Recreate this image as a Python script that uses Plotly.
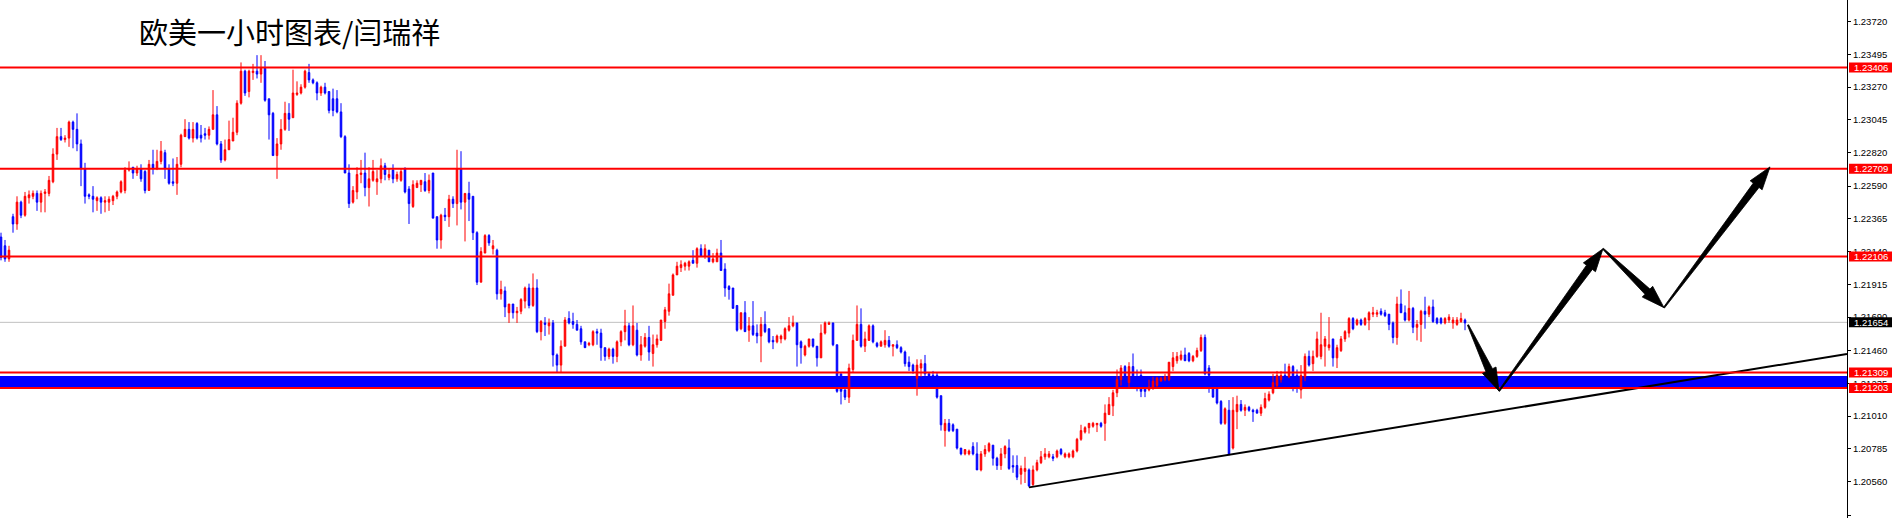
import plotly.graph_objects as go
import math

W, H = 1892, 518
ML, MR, MT, MB = 0, 45, 0, 0
PW, PH = W - ML - MR, H - MT - MB
X_RANGE = [-0.25, 461.5]
Y_RANGE = [1.203095, 1.23869]

opens = [
1.2224,1.2218,1.2209,1.2238,1.2233,1.2248,1.2239,1.2251,1.2252,1.2254,
1.2248,1.2254,1.2254,1.2262,1.2281,1.2293,1.2291,1.2292,1.2303,1.2298,
1.2288,1.2271,1.2253,1.2252,1.2249,1.2251,1.2248,1.2248,1.2249,1.2252,
1.2255,1.2256,1.2270,1.2272,1.2268,1.2271,1.2269,1.2256,1.2274,1.2271,
1.2276,1.2282,1.2271,1.2262,1.2261,1.2274,1.2293,1.2298,1.2292,1.2302,
1.2294,1.2295,1.2294,1.2298,1.2308,1.2288,1.2277,1.2284,1.2290,1.2296,
1.2316,1.2338,1.2324,1.2337,1.2338,1.2336,1.2340,1.2319,1.2309,1.2280,
1.2288,1.2298,1.2309,1.2306,1.2322,1.2323,1.2327,1.2337,1.2332,1.2330,
1.2323,1.2327,1.2324,1.2319,1.2319,1.2310,1.2293,1.2268,1.2248,1.2255,
1.2267,1.2268,1.2258,1.2263,1.2262,1.2264,1.2273,1.2265,1.2270,1.2264,
1.2263,1.2271,1.2257,1.2245,1.2258,1.2260,1.2262,1.2256,1.2268,1.2238,
1.2222,1.2239,1.2238,1.2250,1.2247,1.2271,1.2248,1.2254,1.2252,1.2227,
1.2193,1.2213,1.2225,1.2216,1.2215,1.2185,1.2187,1.2172,1.2178,1.2172,
1.2173,1.2180,1.2189,1.2177,1.2189,1.2159,1.2165,1.2163,1.2165,1.2143,
1.2136,1.2149,1.2168,1.2166,1.2164,1.2161,1.2152,1.2150,1.2150,1.2159,
1.2158,1.2148,1.2142,1.2147,1.2142,1.2152,1.2159,1.2163,1.2150,1.2160,
1.2143,1.2149,1.2155,1.2144,1.2150,1.2153,1.2166,1.2173,1.2184,1.2198,
1.2203,1.2204,1.2204,1.2208,1.2206,1.2216,1.2211,1.2215,1.2207,1.2207,
1.2213,1.2202,1.2190,1.2189,1.2177,1.2161,1.2172,1.2160,1.2163,1.2158,
1.2156,1.2164,1.2161,1.2153,1.2152,1.2154,1.2154,1.2160,1.2163,1.2165,
1.2152,1.2143,1.2149,1.2154,1.2149,1.2141,1.2158,1.2164,1.2165,1.2150,
1.2130,1.2119,1.2114,1.2133,1.2153,1.2164,1.2149,1.2153,1.2163,1.2151,
1.2149,1.2150,1.2153,1.2149,1.2150,1.2148,1.2145,1.2138,1.2136,1.2127,
1.2134,1.2137,1.2130,1.2129,1.2129,1.2115,1.2091,1.2096,1.2095,1.2092,
1.2079,1.2075,1.2075,1.2080,1.2075,1.2064,1.2075,1.2077,1.2081,1.2072,
1.2067,1.2075,1.2079,1.2067,1.2067,1.2061,1.2063,1.2064,1.2054,1.2064,
1.2069,1.2073,1.2073,1.2073,1.2073,1.2078,1.2073,1.2073,1.2073,1.2077,
1.2085,1.2090,1.2093,1.2094,1.2095,1.2096,1.2096,1.2102,1.2108,1.2117,
1.2126,1.2135,1.2124,1.2135,1.2127,1.2129,1.2124,1.2119,1.2120,1.2122,
1.2125,1.2126,1.2126,1.2135,1.2139,1.2140,1.2143,1.2144,1.2139,1.2142,
1.2146,1.2155,1.2134,1.2121,1.2120,1.2111,1.2096,1.2105,1.2079,1.2104,
1.2109,1.2105,1.2107,1.2105,1.2105,1.2103,1.2107,1.2112,1.2117,1.2122,
1.2126,1.2129,1.2128,1.2135,1.2129,1.2119,1.2128,1.2142,1.2137,1.2142,
1.2142,1.2149,1.2148,1.2154,1.2141,1.2146,1.2154,1.2158,1.2168,1.2164,
1.2167,1.2164,1.2167,1.2171,1.2171,1.2173,1.2172,1.2171,1.2165,1.2155,
1.2178,1.2172,1.2167,1.2175,1.2162,1.2164,1.2173,1.2171,1.2176,1.2168,
1.2168,1.2165,1.2167,1.2165,1.2164,1.2166,1.2167]

highs = [
1.2227,1.2222,1.2218,1.2240,1.2252,1.2249,1.2255,1.2256,1.2256,1.2256,
1.2256,1.2257,1.2266,1.2285,1.2299,1.2299,1.2294,1.2304,1.2304,1.2309,
1.2291,1.2275,1.2254,1.2259,1.2252,1.2252,1.2252,1.2252,1.2253,1.2256,
1.2263,1.2272,1.2276,1.2272,1.2273,1.2274,1.2270,1.2277,1.2284,1.2284,
1.2290,1.2284,1.2274,1.2278,1.2279,1.2295,1.2305,1.2303,1.2303,1.2303,
1.2301,1.2299,1.2300,1.2325,1.2314,1.2290,1.2291,1.2304,1.2306,1.2318,
1.2344,1.2339,1.2339,1.2343,1.2349,1.2349,1.2345,1.2319,1.2310,1.2292,
1.2305,1.2317,1.2316,1.2339,1.2331,1.2329,1.2339,1.2343,1.2333,1.2331,
1.2328,1.2330,1.2324,1.2326,1.2325,1.2316,1.2294,1.2274,1.2259,1.2272,
1.2277,1.2282,1.2272,1.2277,1.2270,1.2278,1.2275,1.2271,1.2274,1.2269,
1.2271,1.2272,1.2259,1.2263,1.2263,1.2263,1.2268,1.2267,1.2268,1.2238,
1.2240,1.2244,1.2253,1.2252,1.2284,1.2283,1.2254,1.2262,1.2252,1.2228,
1.2217,1.2226,1.2226,1.2222,1.2216,1.2194,1.2190,1.2178,1.2178,1.2176,
1.2182,1.2190,1.2192,1.2199,1.2195,1.2167,1.2169,1.2168,1.2167,1.2144,
1.2153,1.2169,1.2173,1.2172,1.2167,1.2163,1.2152,1.2152,1.2160,1.2161,
1.2161,1.2148,1.2148,1.2148,1.2153,1.2160,1.2174,1.2165,1.2177,1.2165,
1.2156,1.2158,1.2163,1.2157,1.2157,1.2167,1.2176,1.2192,1.2199,1.2207,
1.2208,1.2207,1.2208,1.2215,1.2217,1.2219,1.2219,1.2215,1.2213,1.2216,
1.2222,1.2206,1.2191,1.2189,1.2177,1.2172,1.2180,1.2169,1.2180,1.2164,
1.2169,1.2173,1.2161,1.2156,1.2157,1.2157,1.2162,1.2169,1.2170,1.2165,
1.2153,1.2150,1.2154,1.2154,1.2149,1.2164,1.2166,1.2166,1.2165,1.2150,
1.2130,1.2119,1.2137,1.2157,1.2177,1.2175,1.2159,1.2164,1.2164,1.2152,
1.2153,1.2160,1.2156,1.2150,1.2153,1.2149,1.2146,1.2142,1.2137,1.2140,
1.2140,1.2143,1.2131,1.2132,1.2131,1.2115,1.2099,1.2099,1.2096,1.2092,
1.2079,1.2078,1.2078,1.2083,1.2083,1.2077,1.2081,1.2083,1.2081,1.2073,
1.2079,1.2081,1.2085,1.2074,1.2074,1.2067,1.2073,1.2065,1.2067,1.2071,
1.2077,1.2079,1.2077,1.2075,1.2078,1.2079,1.2076,1.2076,1.2078,1.2086,
1.2095,1.2094,1.2096,1.2097,1.2096,1.2097,1.2109,1.2114,1.2119,1.2133,
1.2136,1.2136,1.2138,1.2144,1.2133,1.2133,1.2125,1.2126,1.2128,1.2128,
1.2128,1.2130,1.2138,1.2145,1.2145,1.2146,1.2148,1.2145,1.2143,1.2148,
1.2157,1.2157,1.2136,1.2122,1.2122,1.2112,1.2107,1.2112,1.2114,1.2115,
1.2112,1.2109,1.2108,1.2106,1.2106,1.2109,1.2117,1.2118,1.2130,1.2132,
1.2132,1.2137,1.2137,1.2136,1.2133,1.2136,1.2144,1.2146,1.2146,1.2159,
1.2172,1.2156,1.2169,1.2154,1.2150,1.2156,1.2160,1.2169,1.2169,1.2168,
1.2168,1.2169,1.2173,1.2176,1.2174,1.2175,1.2174,1.2171,1.2166,1.2183,
1.2188,1.2177,1.2187,1.2176,1.2167,1.2174,1.2183,1.2177,1.2181,1.2169,
1.2169,1.2169,1.2171,1.2169,1.2169,1.2172,1.2168]

lows = [
1.2208,1.2207,1.2207,1.2227,1.2229,1.2237,1.2238,1.2247,1.2250,1.2242,
1.2241,1.2241,1.2252,1.2261,1.2277,1.2290,1.2289,1.2286,1.2285,1.2283,
1.2259,1.2247,1.2250,1.2241,1.2242,1.2240,1.2241,1.2242,1.2246,1.2250,
1.2254,1.2254,1.2269,1.2264,1.2266,1.2262,1.2254,1.2256,1.2267,1.2270,
1.2274,1.2264,1.2260,1.2259,1.2253,1.2272,1.2293,1.2291,1.2289,1.2291,
1.2289,1.2291,1.2291,1.2298,1.2287,1.2275,1.2276,1.2284,1.2290,1.2294,
1.2315,1.2321,1.2320,1.2332,1.2333,1.2330,1.2317,1.2291,1.2280,1.2264,
1.2284,1.2297,1.2297,1.2306,1.2321,1.2322,1.2326,1.2330,1.2329,1.2318,
1.2321,1.2322,1.2309,1.2307,1.2309,1.2292,1.2268,1.2244,1.2247,1.2250,
1.2261,1.2252,1.2245,1.2262,1.2253,1.2261,1.2263,1.2263,1.2261,1.2262,
1.2262,1.2254,1.2233,1.2244,1.2258,1.2255,1.2255,1.2254,1.2237,1.2216,
1.2216,1.2235,1.2231,1.2244,1.2232,1.2243,1.2221,1.2235,1.2222,1.2191,
1.2193,1.2213,1.2218,1.2212,1.2181,1.2181,1.2169,1.2165,1.2168,1.2165,
1.2171,1.2175,1.2175,1.2176,1.2158,1.2153,1.2156,1.2157,1.2135,1.2131,
1.2131,1.2149,1.2164,1.2161,1.2160,1.2150,1.2148,1.2149,1.2149,1.2150,
1.2139,1.2139,1.2140,1.2137,1.2138,1.2149,1.2153,1.2149,1.2149,1.2142,
1.2139,1.2148,1.2139,1.2135,1.2148,1.2153,1.2161,1.2170,1.2184,1.2198,
1.2200,1.2201,1.2201,1.2206,1.2203,1.2211,1.2209,1.2207,1.2206,1.2207,
1.2201,1.2183,1.2181,1.2175,1.2159,1.2160,1.2159,1.2152,1.2156,1.2151,
1.2138,1.2158,1.2151,1.2147,1.2151,1.2151,1.2153,1.2159,1.2162,1.2135,
1.2137,1.2142,1.2148,1.2148,1.2135,1.2141,1.2157,1.2164,1.2149,1.2117,
1.2109,1.2112,1.2110,1.2131,1.2153,1.2148,1.2145,1.2153,1.2151,1.2148,
1.2149,1.2148,1.2148,1.2142,1.2147,1.2144,1.2135,1.2132,1.2130,1.2115,
1.2128,1.2128,1.2127,1.2125,1.2113,1.2091,1.2080,1.2090,1.2090,1.2078,
1.2074,1.2074,1.2074,1.2074,1.2064,1.2063,1.2073,1.2076,1.2067,1.2064,
1.2064,1.2072,1.2064,1.2062,1.2057,1.2054,1.2055,1.2052,1.2053,1.2063,
1.2068,1.2071,1.2072,1.2070,1.2072,1.2074,1.2072,1.2072,1.2072,1.2076,
1.2084,1.2089,1.2089,1.2093,1.2090,1.2093,1.2084,1.2102,1.2101,1.2114,
1.2122,1.2125,1.2121,1.2121,1.2118,1.2114,1.2114,1.2118,1.2119,1.2121,
1.2125,1.2125,1.2125,1.2132,1.2137,1.2139,1.2139,1.2138,1.2138,1.2141,
1.2145,1.2129,1.2117,1.2114,1.2109,1.2095,1.2095,1.2074,1.2078,1.2092,
1.2104,1.2101,1.2104,1.2097,1.2103,1.2101,1.2106,1.2111,1.2116,1.2120,
1.2124,1.2125,1.2127,1.2118,1.2117,1.2113,1.2125,1.2135,1.2132,1.2141,
1.2140,1.2135,1.2146,1.2135,1.2134,1.2145,1.2152,1.2155,1.2160,1.2163,
1.2163,1.2163,1.2160,1.2169,1.2169,1.2170,1.2169,1.2160,1.2151,1.2150,
1.2172,1.2166,1.2166,1.2158,1.2153,1.2152,1.2161,1.2169,1.2165,1.2164,
1.2164,1.2164,1.2165,1.2161,1.2163,1.2165,1.2160]

closes = [
1.2210,1.2209,1.2215,1.2233,1.2248,1.2239,1.2252,1.2253,1.2254,1.2248,
1.2254,1.2255,1.2263,1.2281,1.2293,1.2291,1.2292,1.2303,1.2298,1.2288,
1.2271,1.2252,1.2252,1.2250,1.2251,1.2248,1.2249,1.2250,1.2252,1.2255,
1.2262,1.2270,1.2271,1.2268,1.2271,1.2264,1.2256,1.2274,1.2271,1.2276,
1.2283,1.2271,1.2261,1.2261,1.2274,1.2294,1.2298,1.2292,1.2298,1.2292,
1.2292,1.2294,1.2298,1.2308,1.2288,1.2277,1.2284,1.2291,1.2296,1.2316,
1.2338,1.2323,1.2338,1.2338,1.2336,1.2340,1.2318,1.2308,1.2280,1.2288,
1.2298,1.2309,1.2305,1.2323,1.2323,1.2327,1.2338,1.2332,1.2330,1.2323,
1.2327,1.2323,1.2311,1.2311,1.2310,1.2293,1.2268,1.2247,1.2256,1.2267,
1.2268,1.2258,1.2264,1.2269,1.2264,1.2273,1.2267,1.2267,1.2264,1.2267,
1.2269,1.2255,1.2247,1.2260,1.2261,1.2263,1.2256,1.2263,1.2237,1.2222,
1.2239,1.2238,1.2250,1.2247,1.2271,1.2248,1.2254,1.2250,1.2227,1.2193,
1.2214,1.2225,1.2220,1.2218,1.2185,1.2188,1.2176,1.2178,1.2172,1.2173,
1.2181,1.2189,1.2177,1.2189,1.2159,1.2166,1.2164,1.2165,1.2143,1.2136,
1.2149,1.2167,1.2165,1.2164,1.2160,1.2152,1.2148,1.2151,1.2159,1.2158,
1.2148,1.2142,1.2147,1.2142,1.2152,1.2159,1.2163,1.2150,1.2163,1.2143,
1.2150,1.2155,1.2145,1.2150,1.2154,1.2167,1.2174,1.2185,1.2198,1.2204,
1.2205,1.2206,1.2207,1.2206,1.2216,1.2211,1.2216,1.2207,1.2209,1.2213,
1.2201,1.2189,1.2188,1.2175,1.2160,1.2172,1.2159,1.2163,1.2157,1.2156,
1.2164,1.2159,1.2152,1.2152,1.2156,1.2156,1.2161,1.2163,1.2165,1.2150,
1.2148,1.2149,1.2154,1.2149,1.2141,1.2158,1.2165,1.2165,1.2150,1.2118,
1.2118,1.2114,1.2134,1.2153,1.2164,1.2149,1.2154,1.2163,1.2152,1.2149,
1.2152,1.2153,1.2149,1.2150,1.2148,1.2145,1.2137,1.2135,1.2132,1.2136,
1.2137,1.2130,1.2128,1.2127,1.2114,1.2095,1.2096,1.2091,1.2091,1.2079,
1.2075,1.2078,1.2077,1.2075,1.2064,1.2075,1.2078,1.2082,1.2072,1.2067,
1.2075,1.2080,1.2065,1.2066,1.2059,1.2065,1.2065,1.2053,1.2064,1.2069,
1.2073,1.2075,1.2075,1.2072,1.2077,1.2075,1.2075,1.2075,1.2077,1.2085,
1.2091,1.2093,1.2096,1.2096,1.2096,1.2094,1.2103,1.2109,1.2117,1.2126,
1.2134,1.2128,1.2135,1.2124,1.2120,1.2118,1.2118,1.2121,1.2125,1.2127,
1.2127,1.2128,1.2138,1.2141,1.2142,1.2143,1.2139,1.2139,1.2142,1.2146,
1.2155,1.2130,1.2129,1.2114,1.2110,1.2096,1.2106,1.2075,1.2105,1.2109,
1.2105,1.2107,1.2105,1.2104,1.2103,1.2107,1.2113,1.2116,1.2124,1.2129,
1.2129,1.2126,1.2135,1.2126,1.2125,1.2129,1.2142,1.2136,1.2142,1.2154,
1.2150,1.2154,1.2150,1.2141,1.2148,1.2154,1.2159,1.2168,1.2161,1.2167,
1.2164,1.2168,1.2172,1.2172,1.2172,1.2171,1.2170,1.2164,1.2155,1.2178,
1.2172,1.2167,1.2175,1.2162,1.2164,1.2173,1.2171,1.2176,1.2166,1.2165,
1.2165,1.2168,1.2169,1.2167,1.2167,1.2168,1.2165]

level_prices = [1.23406, 1.22709, 1.22106, 1.21309, 1.21203]
bid_price = 1.21654
zone_top, zone_bottom = 1.21285, 1.21210
trend_x = [257, 461.5]
trend_y = [1.20520, 1.21437]
forecast_x = [366.75, 374.5, 400.5, 415.75, 442.25]
forecast_y = [1.21636, 1.21182, 1.22160, 1.21755, 1.22722]
tick_vals = [1.23720, 1.23495, 1.23270, 1.23045, 1.22820, 1.22590, 1.22365, 1.22140,
             1.21915, 1.21690, 1.21460, 1.21235, 1.21010, 1.20785, 1.20560, 1.20330]
tick_text = ["%.5f" % v for v in tick_vals]
title_text = "欧美一小时图表/闫瑞祥"

n = min(len(opens), len(highs), len(lows), len(closes))
xs = list(range(n))

def to_px(x, y):
    px = ML + (x - X_RANGE[0]) / (X_RANGE[1] - X_RANGE[0]) * PW
    py = MT + (Y_RANGE[1] - y) / (Y_RANGE[1] - Y_RANGE[0]) * PH
    return px, py

def to_data(px, py):
    x = X_RANGE[0] + (px - ML) / PW * (X_RANGE[1] - X_RANGE[0])
    y = Y_RANGE[1] - (py - MT) / PH * (Y_RANGE[1] - Y_RANGE[0])
    return x, y

def ypaper(price):
    return (price - Y_RANGE[0]) / (Y_RANGE[1] - Y_RANGE[0])

fig = go.Figure()

fig.add_trace(go.Candlestick(
    x=xs, open=opens[:n], high=highs[:n], low=lows[:n], close=closes[:n],
    increasing=dict(line=dict(color="#FF0000", width=1), fillcolor="#FF0000"),
    decreasing=dict(line=dict(color="#0000FF", width=1), fillcolor="#0000FF"),
    whiskerwidth=0, hoverinfo="skip", showlegend=False))

fig.add_trace(go.Scatter(x=trend_x, y=trend_y, mode="lines",
                         line=dict(color="black", width=2), hoverinfo="skip", showlegend=False))

shapes = []
shapes.append(dict(type="rect", xref="x", yref="y", x0=X_RANGE[0], x1=X_RANGE[1],
                   y0=zone_bottom, y1=zone_top, fillcolor="#0000FF", line=dict(width=0), layer="below"))
shapes.append(dict(type="line", xref="x", yref="y", x0=X_RANGE[0], x1=X_RANGE[1],
                   y0=bid_price, y1=bid_price, line=dict(color="#C0C0C0", width=1), layer="below"))
for p in level_prices:
    shapes.append(dict(type="line", xref="x", yref="y", x0=X_RANGE[0], x1=X_RANGE[1],
                       y0=p, y1=p, line=dict(color="#FF0000", width=2), layer="above"))

# forecast arrows (tapered bodies with triangular heads)
for i in range(len(forecast_x) - 1):
    x0, y0 = to_px(forecast_x[i], forecast_y[i])
    x1, y1 = to_px(forecast_x[i + 1], forecast_y[i + 1])
    dx, dy = x1 - x0, y1 - y0
    L = math.hypot(dx, dy)
    ux, uy = dx / L, dy / L
    nx, ny = -uy, ux
    hl = min(23.0, L * 0.33)
    bx, by = x1 - ux * hl, y1 - uy * hl
    w0, w1, hw = 0.6, 3.6, 7.5
    pts = [(x0 + nx * w0, y0 + ny * w0), (bx + nx * w1, by + ny * w1), (bx + nx * hw, by + ny * hw),
           (x1, y1), (bx - nx * hw, by - ny * hw), (bx - nx * w1, by - ny * w1), (x0 - nx * w0, y0 - ny * w0)]
    dpts = [to_data(a, b) for a, b in pts]
    path = "M " + " L ".join("%.5f,%.7f" % (a, b) for a, b in dpts) + " Z"
    shapes.append(dict(type="path", xref="x", yref="y", path=path, fillcolor="black",
                       line=dict(color="black", width=0.8), layer="above"))

# price tags on the axis
tag_prices = level_prices + [bid_price]
tag_colors = ["#FF0000"] * len(level_prices) + ["#000000"]
annotations = []
for p, c in zip(tag_prices, tag_colors):
    yp = ypaper(p)
    h = 5.0 / PH
    shapes.append(dict(type="rect", xref="paper", yref="paper", x0=(1849 - ML) / PW, x1=(1892 - ML) / PW,
                       y0=yp - h, y1=yp + h, fillcolor=c, line=dict(width=0), layer="above"))
    annotations.append(dict(xref="paper", yref="paper", x=(1852 - ML) / PW, y=yp, xanchor="left",
                            yanchor="middle", text="%.5f" % p, showarrow=False,
                            font=dict(color="white", size=9.5, family="Liberation Sans")))

annotations.append(dict(xref="paper", yref="paper", x=(137 - ML) / PW, y=1 - 30.5 / PH,
                        xanchor="left", yanchor="middle", text=title_text, showarrow=False,
                        font=dict(color="black", size=29, family="Noto Sans CJK SC")))

fig.update_layout(
    width=W, height=H, margin=dict(l=ML, r=MR, t=MT, b=MB, pad=0),
    paper_bgcolor="white", plot_bgcolor="white",
    shapes=shapes, annotations=annotations, boxgap=0.45,
    xaxis=dict(range=X_RANGE, visible=False, rangeslider=dict(visible=False),
               showgrid=False, zeroline=False, fixedrange=True),
    yaxis=dict(range=Y_RANGE, side="right", showgrid=False, zeroline=False,
               showline=True, linecolor="black", linewidth=1, mirror=False,
               ticks="outside", ticklen=3, tickcolor="black",
               tickvals=tick_vals, ticktext=tick_text,
               tickfont=dict(family="Liberation Sans", size=9.5, color="black"), fixedrange=True),
    showlegend=False,
)

fig.write_html("out.html", config={"displayModeBar": False},
               post_script="document.body.style.margin='0';document.body.style.overflow='hidden';")
